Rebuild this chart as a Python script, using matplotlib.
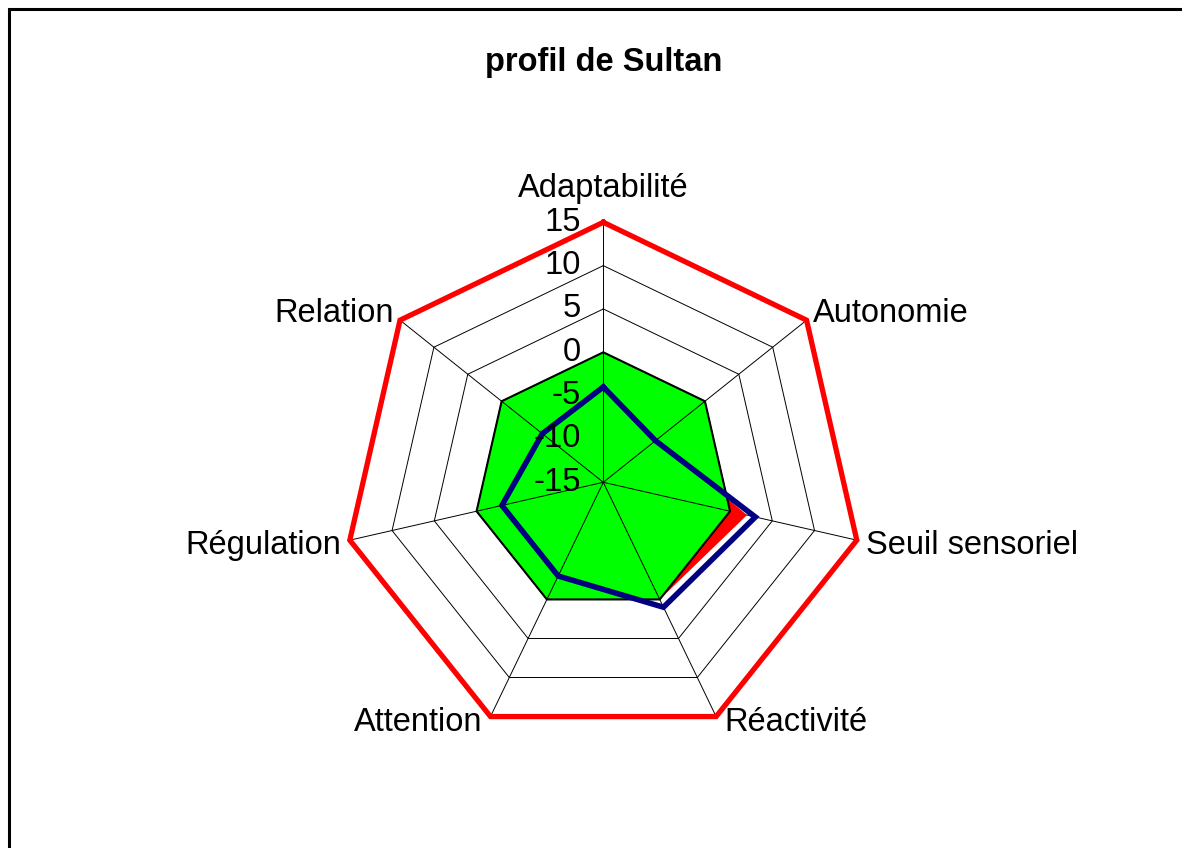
import numpy as np
import matplotlib
matplotlib.use("Agg")
from matplotlib import pyplot as plt, patches

plt.rcParams['font.family'] = ['Liberation Sans', 'DejaVu Sans']

# donnees du profil
categories = ['Adaptabilité', 'Autonomie', 'Seuil sensoriel', 'Réactivité',
              'Attention', 'Régulation', 'Relation']
maximum = [15, 15, 15, 15, 15, 15, 15]
moyenne = [-5, -7, 2, 0, -5, -5, -5]
reference = [0, 0, 0, 0, 0, 0, 0]
sultan = [-4, -7.3, 3, 1, -3, -3, -6]
ticks = [-15, -10, -5, 0, 5, 10, 15]

n = len(categories)
theta = np.arange(n) * 2 * np.pi / n


def closed(vals):
    # ferme le polygone
    return np.append(theta, theta[0]), np.append(vals, vals[0])


W, H = 1182, 848
fig = plt.figure(figsize=(W / 100, H / 100), dpi=100)
cx, cy, rad = 603.3, 482.3, 260
ax = fig.add_axes([(cx - rad) / W, (H - cy - rad) / H, 2 * rad / W, 2 * rad / H],
                  projection='polar')
ax.set_theta_zero_location('N')
ax.set_theta_direction(-1)
ax.set_ylim(ticks[0], ticks[-1])
ax.set_axis_off()

# anneaux de la grille
for t in ticks[1:-1]:
    tt, rr = closed([t] * n)
    ax.plot(tt, rr, color='black', lw=0.7, zorder=0.5)

# rayons (sous les remplissages)
for a in theta:
    ax.plot([a, a], [ticks[0], ticks[-1]], color='black', lw=0.7, zorder=0.5)

tt, rr = closed(moyenne)
ax.fill(tt, rr, color='#ff0000', lw=0, zorder=1)

tt, rr = closed(reference)
green = ax.fill(tt, rr, facecolor='#00ff00', edgecolor='black', lw=1.5, zorder=2)[0]

# rayons visibles sur le vert
for a in theta:
    sp, = ax.plot([a, a], [ticks[0], ticks[-1]], color='black', lw=0.7, zorder=2.5)
    sp.set_clip_path(green)

tt, rr = closed(maximum)
ax.plot(tt, rr, color='#ff0000', lw=3.8, zorder=3, clip_on=False,
        solid_joinstyle='miter')

tt, rr = closed(sultan)
ax.plot(tt, rr, color='#000080', lw=4.0, zorder=4, solid_joinstyle='miter')

# etiquettes de l'echelle
for t in ticks:
    ax.annotate(str(t), xy=(0, t), xytext=(-16, 0), textcoords='offset points',
                ha='right', va='center', fontsize=23.5, zorder=5,
                annotation_clip=False)

# etiquettes des categories
offsets = [(0, 24, 'center'), (4.5, 5, 'left'), (6.5, -3.5, 'left'),
           (6, -4, 'left'), (-6, -4, 'right'), (-6.5, -3.5, 'right'),
           (-4.5, 5, 'right')]
for a, lab, (dx, dy, ha) in zip(theta, categories, offsets):
    ax.annotate(lab, xy=(a, 15), xytext=(dx, dy), textcoords='offset points',
                ha=ha, va='center', fontsize=23.5, annotation_clip=False)

fig.text(cx / W, 1 - 62 / H, 'profil de Sultan', ha='center', va='center',
         fontsize=23.5, fontweight='bold')

# cadre du graphique
fig.add_artist(patches.Rectangle((8.5 / W, -0.1), 1.2, 1 - 9.5 / H + 0.1,
                                 transform=fig.transFigure, fill=False,
                                 edgecolor='black', lw=2.2, clip_on=False))

fig.savefig('out.png', dpi=100, facecolor='white')
